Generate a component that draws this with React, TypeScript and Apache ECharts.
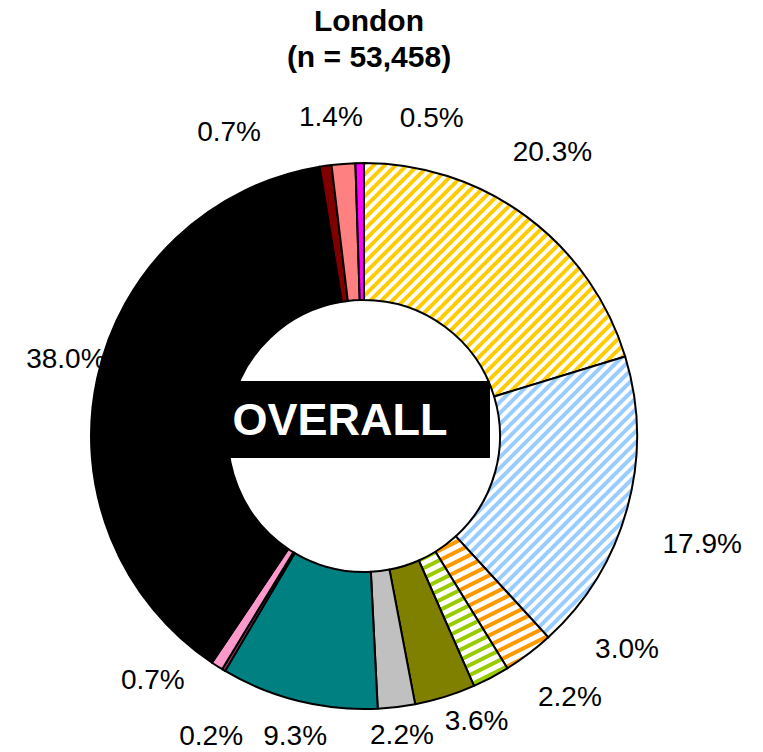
import React, { useEffect, useRef } from "react";
import * as echarts from "echarts";

// ---- data ----
const categories = [
  "Group 1", "Group 2", "Group 3", "Group 4", "Group 5", "Group 6", "Group 7",
  "Group 8", "Group 9", "Group 10", "Group 11", "Group 12", "Group 13",
];
const values = [20.3, 17.9, 3.0, 2.2, 3.6, 2.2, 9.3, 0.2, 0.7, 38.0, 0.7, 1.4, 0.5];
const titleLines = ["London", "(n = 53,458)"];
const centerLabel = "OVERALL";

// ---- layout / style ----
const CX = 364;
const CY = 436;
const R_IN = 136;
const R_OUT = 273;
// Excel-style label placement: angular nudge (deg) from slice middle and distance from centre
const LABEL_ANGLE_SHIFT = [-3.0, 2.4, -14.0, -10.6, -4.3, -0.4, -0.9, -3.9, 8.4, 2.3, -15.8, -1.6, 12.9];
const LABEL_DIST = [341, 355, 338, 332, 306, 301, 307, 336, 322, 308, 333, 321, 326];

function hatch(color: string, w: number, h: number, lw: number) {
  const c = document.createElement("canvas");
  c.width = w;
  c.height = h;
  const ctx = c.getContext("2d")!;
  ctx.fillStyle = "#ffffff";
  ctx.fillRect(0, 0, w, h);
  ctx.strokeStyle = color;
  ctx.lineWidth = lw;
  for (let k = -2; k <= 2; k++) {
    ctx.beginPath();
    ctx.moveTo(k * w - w, 2 * h);
    ctx.lineTo(k * w + 2 * w, -h);
    ctx.stroke();
  }
  return { image: c, repeat: "repeat" } as any;
}

export default function App() {
  const ref = useRef<HTMLDivElement>(null);
  useEffect(() => {
    document.body.style.margin = "0";
    if (!ref.current) return;
    const chart = echarts.init(ref.current, undefined, { renderer: "svg" });

    const colors: any[] = [
      hatch("#ffcc00", 11, 11, 4),
      hatch("#99ccff", 11, 11, 4),
      hatch("#ff9900", 20, 10, 4),
      hatch("#99cc00", 20, 10, 4),
      "#808000",
      "#c0c0c0",
      "#008080",
      "#993366",
      "#ff99cc",
      "#000000",
      "#800000",
      "#ff8080",
      "#ff00ff",
    ];

    const total = values.reduce((a, b) => a + b, 0);
    const mids: number[] = [];
    let acc = 0;
    values.forEach((v) => {
      mids.push(((acc + v / 2) / total) * 360);
      acc += v;
    });

    chart.setOption({
      animation: false,
      title: {
        text: titleLines.join("\n"),
        left: 369,
        top: 3,
        textAlign: "center",
        padding: 0,
        textStyle: {
          fontFamily: "Liberation Sans, Arial, sans-serif",
          fontWeight: "bold",
          fontSize: 30,
          lineHeight: 35.5,
          color: "#000",
        },
      },
      series: [
        {
          type: "pie",
          center: [CX, CY],
          radius: [R_IN, R_OUT],
          startAngle: 90,
          clockwise: true,
          avoidLabelOverlap: false,
          silent: true,
          itemStyle: { borderColor: "#000", borderWidth: 2 },
          label: {
            show: true,
            position: "outside",
            formatter: (p: any) => Number(p.value).toFixed(1) + "%",
            fontFamily: "Liberation Sans, Arial, sans-serif",
            fontSize: 28,
            lineHeight: 28,
            color: "#000",
          },
          labelLine: { show: false },
          labelLayout: (p: any) => {
            const i = p.dataIndex;
            const a = ((mids[i] + LABEL_ANGLE_SHIFT[i]) * Math.PI) / 180;
            const d = LABEL_DIST[i];
            return {
              x: CX + d * Math.sin(a),
              y: CY - d * Math.cos(a),
              align: "center",
              verticalAlign: "middle",
            };
          },
          data: values.map((v, i) => ({
            name: categories[i],
            value: v,
            itemStyle: { color: colors[i] },
          })),
        },
      ],
      graphic: [
        {
          type: "rect",
          shape: { x: 195, y: 381, width: 295, height: 77 },
          style: { fill: "#000" },
          z: 100,
        },
        {
          type: "text",
          x: 340,
          y: 419,
          style: {
            text: centerLabel,
            fill: "#fff",
            font: "bold 45px 'Liberation Sans', Arial, sans-serif",
            textAlign: "center",
            textVerticalAlign: "middle",
          },
          z: 101,
        },
      ],
    });
    return () => chart.dispose();
  }, []);
  return <div ref={ref} style={{ width: 763, height: 752 }} />;
}
